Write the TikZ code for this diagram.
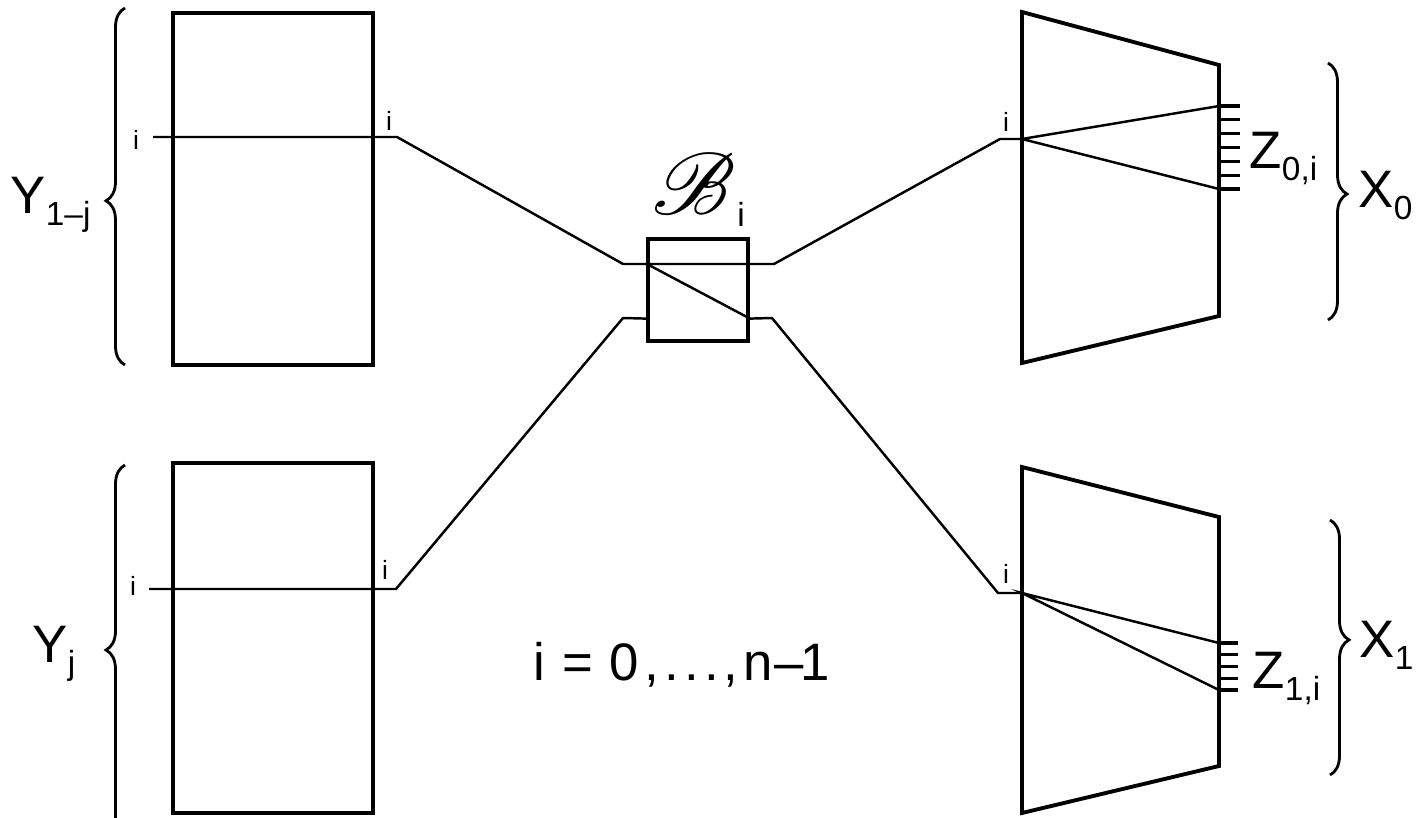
\documentclass[tikz,border=0pt]{standalone}
\usepackage{fontspec}
\setmainfont{Liberation Sans}
\usepackage{mathrsfs}
\usetikzlibrary{calc,decorations.pathreplacing}

\newcommand{\lowsub}[1]{\raisebox{-0.45ex}{\fontsize{9.5}{11}\selectfont #1}}

\begin{document}
\begin{tikzpicture}[x=0.01cm, y=-0.01cm,
    frame/.style={draw, line width=1.1pt, inner sep=0pt, minimum width=2cm},
    wire/.style={line width=0.7pt},
    edge/.style={line width=1.1pt, line join=miter},
    curly/.style={decorate, decoration={brace, amplitude=0.19cm, aspect=#1}, line width=0.8pt},
    curly/.default=0.5,
    lab/.style={font=\fontsize{15}{18}\selectfont, inner sep=0pt},
    idx/.style={font=\fontsize{7.5}{9}\selectfont, inner sep=0pt}
]
\useasboundingbox (0,0) rectangle (1426,818);

% left blocks
\node[frame, minimum height=3.52cm] (ya) at (273,189) {};
\node[frame, minimum height=3.50cm] (yb) at (273,638) {};
\draw[curly=0.46] (125,365) -- (125,8);
\draw[curly=0.5] (125,835) -- (125,465);
\node[lab, anchor=base west] (ya lab) at (10,213) {Y\lowsub{1–j}};
\node[lab, anchor=base west] (yb lab) at (32,662) {Y\lowsub{j}};

% switch
\node[draw, line width=1.1pt, minimum width=1cm, minimum height=1.02cm, inner sep=0pt] (B) at (698,290) {};
\node[font=\fontsize{28}{32}\selectfont, inner sep=0pt] (B lab) at (694,184) {$\mathscr{B}$};
\node[font=\fontsize{9.5}{11}\selectfont, inner sep=0pt] (B sub) at (741,214) {i};
\coordinate (B w0) at ($(B.north west)!0.25!(B.south west)$);
\coordinate (B w1) at ($(B.north west)!0.77!(B.south west)$);
\coordinate (B e0) at ($(B.north east)!0.25!(B.south east)$);
\coordinate (B e1) at ($(B.north east)!0.77!(B.south east)$);
\coordinate (p0) at (623,264);
\coordinate (q0) at (774,264);
\coordinate (p1) at (623,318);
\coordinate (q1) at (772,318);

% right blocks
\coordinate (xa nw) at (1022,12);
\coordinate (xa ne) at (1219,65);
\coordinate (xa se) at (1219,316);
\coordinate (xa sw) at (1022,363);
\coordinate (xb nw) at (1022,467);
\coordinate (xb ne) at (1219,517);
\coordinate (xb se) at (1219,766);
\coordinate (xb sw) at (1022,813);
\draw[edge] (xa nw) -- (xa ne) -- (xa se) -- (xa sw) -- cycle;
\draw[edge] (xb nw) -- (xb ne) -- (xb se) -- (xb sw) -- cycle;
\draw[curly=0.51] (1328,63) -- (1328,320);
\draw[curly=0.47] (1330,520) -- (1330,775);
\node[lab, anchor=base west] (xa lab) at (1358,207) {X\lowsub{0}};
\node[lab, anchor=base west] (xb lab) at (1359,657) {X\lowsub{1}};

% lines i
\coordinate (ya in) at (153,137);
\coordinate (ya out) at (397,137);
\coordinate (yb in) at (149,589);
\coordinate (yb out) at (396,589);
\coordinate (xa in) at (1000,139);
\coordinate (xa i) at (1022,139);
\coordinate (xb in) at (998,593);
\coordinate (xb i) at (1022,593);
\coordinate (za top) at (1219,106);
\coordinate (za bot) at (1219,189);
\coordinate (zb top) at (1219,643);
\coordinate (zb bot) at (1219,690);

\draw[wire] (ya in) -- (ya out) -- (p0) -- (q0) -- (xa in) -- (xa i);
\draw[wire] (yb in) -- (yb out) -- (p1) -- (B w1);
\draw[wire] (B w0) -- (B e1);
\draw[wire] (B e1) -- (q1) -- (xb in) -- (xb i);
\draw[wire] (za top) -- (xa i) -- (za bot);
\draw[wire] (zb top) -- (xb i) -- (zb bot);
\foreach \k in {0,...,6}
  \draw[line width=0.9pt] ($(za top)!\k/6!(za bot)$) -- ++(21,0);
\foreach \k in {0,...,4}
  \draw[line width=0.9pt] ($(zb top)!\k/4!(zb bot)$) -- ++(19,0);

\node[lab, anchor=base west] (za lab) at (1249,168) {Z\lowsub{0,i}};
\node[lab, anchor=base west] (zb lab) at (1252,688) {Z\lowsub{1,i}};

\node[idx] (ia) at (136,140) {i};
\node[idx] (ib) at (389,121) {i};
\node[idx] (ic) at (133,586) {i};
\node[idx] (id) at (385,570) {i};
\node[idx] (ie) at (1006,122) {i};
\node[idx] (if) at (1006,574) {i};

\node[lab, anchor=base west] (range) at (533,680)
  {i\hspace{5pt}=\hspace{4.5pt}0\hspace{1.5pt},\hspace{1.5pt}.\hspace{1.5pt}.\hspace{1.5pt}.\hspace{1.5pt},\hspace{1.5pt}n\kern0.5pt–\kern-1pt1};
\end{tikzpicture}
\end{document}
